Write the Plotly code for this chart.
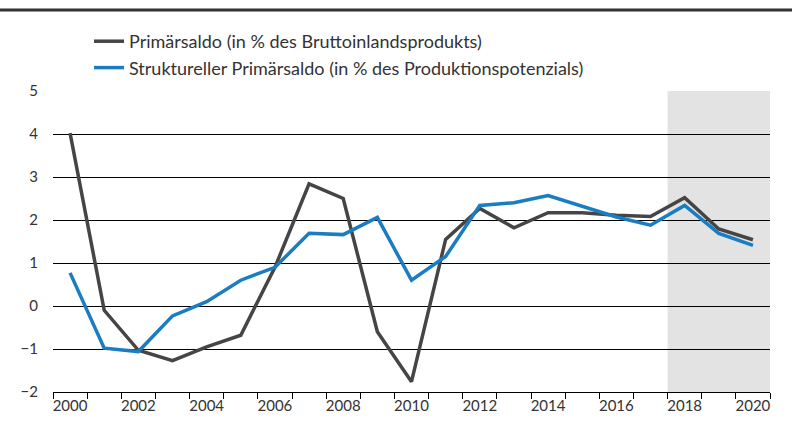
import plotly.graph_objects as go

# Jahre und Werte (in %)
years = list(range(2000, 2021))
primaersaldo = [4.02, -0.1, -1.03, -1.27, -0.95, -0.68, 0.9, 2.84, 2.5, -0.6,
                -1.76, 1.55, 2.27, 1.82, 2.17, 2.17, 2.11, 2.08, 2.52, 1.79, 1.54]
struktureller = [0.77, -0.98, -1.06, -0.23, 0.1, 0.6, 0.9, 1.69, 1.66, 2.06,
                 0.6, 1.15, 2.34, 2.4, 2.57, 2.31, 2.07, 1.88, 2.34, 1.69, 1.41]
name_primaer = "Primärsaldo (in % des Bruttoinlandsprodukts)"
name_strukt = "Struktureller Primärsaldo (in % des Produktionspotenzials)"
x_labels = [str(y) for y in range(2000, 2021, 2)]
y_ticks = list(range(-2, 6))
prognose_start, prognose_end = 2017.5, 2020.5

font_family = "Lato, 'Noto Sans', sans-serif"
text_color = "#333333"

fig = go.Figure()
fig.add_trace(go.Scatter(x=years, y=primaersaldo, mode="lines", name=name_primaer,
                         line=dict(color="#454545", width=3.5)))
fig.add_trace(go.Scatter(x=years, y=struktureller, mode="lines", name=name_strukt,
                         line=dict(color="#1a7cc1", width=3.5)))

# Prognosezeitraum hinterlegt
fig.add_shape(type="rect", xref="x", yref="y", x0=prognose_start, x1=prognose_end,
              y0=-2, y1=5, fillcolor="#e3e3e3", line_width=0, layer="below")

# dicke Linie oben
L, R, T, B = 53, 22, 91, 33
W, H = 792, 425
pw, ph = W - L - R, H - T - B
fig.add_shape(type="line", xref="paper", yref="paper",
              x0=-L / pw, x1=(W - L) / pw, y0=(H - B - 10) / ph, y1=(H - B - 10) / ph,
              line=dict(color="#333333", width=3))

fig.update_layout(
    width=W, height=H,
    margin=dict(l=L, r=R, t=T, b=B),
    paper_bgcolor="white", plot_bgcolor="rgba(0,0,0,0)",
    font=dict(family=font_family, size=15, color=text_color),
    showlegend=True,
    legend=dict(x=(89 - L) / pw, y=(H - B - 23) / ph, xanchor="left", yanchor="top",
                bgcolor="rgba(0,0,0,0)", font=dict(size=18, color=text_color),
                tracegroupgap=0, itemwidth=30),
    xaxis=dict(range=[1999.5, 2020.5], tickvals=list(range(2000, 2021, 2)),
               ticktext=x_labels, ticks="", showgrid=False, zeroline=False,
               showline=True, linecolor="black", linewidth=1,
               tickfont=dict(size=15, color=text_color),
               minor=dict(tickvals=[1999.5 + k for k in range(22)], ticks="outside",
                          ticklen=6, tickcolor="black", tickwidth=1, showgrid=False)),
    yaxis=dict(range=[-2, 5], tickvals=y_ticks, ticks="", showgrid=True,
               gridcolor="black", gridwidth=1, zeroline=False, showline=False,
               ticklabelstandoff=14,
               tickfont=dict(size=15, color=text_color)),
)

fig.write_html("out.html")
